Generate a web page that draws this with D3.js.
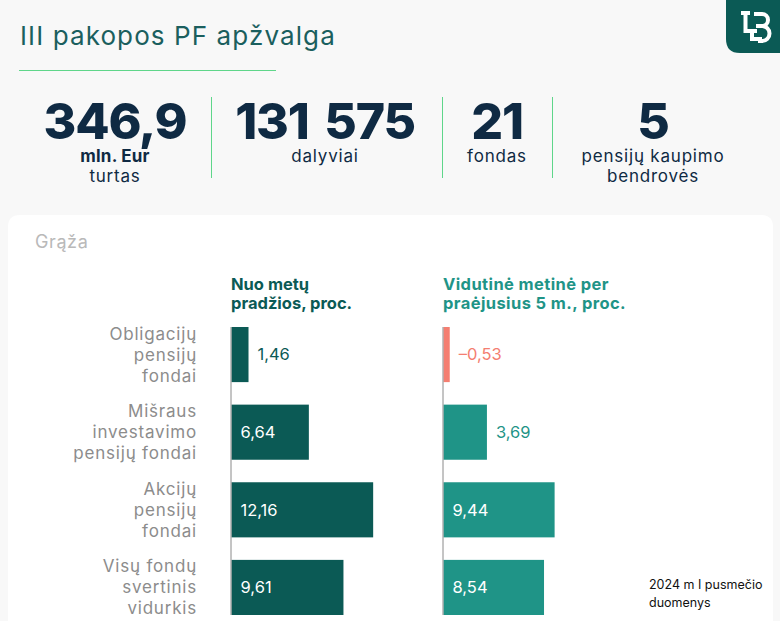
<!DOCTYPE html>
<html>
<head>
<meta charset="utf-8">
<script src="https://cdn.jsdelivr.net/npm/d3@7/dist/d3.min.js"></script>
<style>
  html, body { margin: 0; padding: 0; background: #f8f8f8; }
  svg { display: block; }
  text { font-family: Inter, "Noto Sans", sans-serif; }
</style>
</head>
<body>
<svg id="chart" width="780" height="621"></svg>
<script>
// ---- data ----
const title = "III pakopos PF apžvalga";
const statValues = ["346,9", "131 575", "21", "5"];
const statLabels = [["mln. Eur", "turtas"], ["dalyviai"], ["fondas"], ["pensijų kaupimo", "bendrovės"]];
const categories = ["Obligacijų pensijų fondai", "Mišraus investavimo pensijų fondai", "Akcijų pensijų fondai", "Visų fondų svertinis vidurkis"];
const categoryLines = [["Obligacijų", "pensijų", "fondai"], ["Mišraus", "investavimo", "pensijų fondai"], ["Akcijų", "pensijų", "fondai"], ["Visų fondų", "svertinis", "vidurkis"]];
const ytdValues = [1.46, 6.64, 12.16, 9.61];
const avg5Values = [-0.53, 3.69, 9.44, 8.54];
const seriesHeaders = [["Nuo metų", "pradžios, proc."], ["Vidutinė metinė per", "praėjusius 5 m., proc."]];
const sectionTitle = "Grąža";
const footnote = ["2024 m I pusmečio", "duomenys"];

const fmt = v => (v < 0 ? "\u2013" : "") + Math.abs(v).toFixed(2).replace(".", ",");

const svg = d3.select("#chart");
const navy = "#0f2a43", dark = "#0b5a55", teal = "#1f9487", red = "#f47e71", green = "#5fd68a";

// logo
svg.append("path")
  .attr("d", "M726,0 H780 V53 H740 Q726,53 726,39 Z")
  .attr("fill", dark);
const logo = svg.append("g").attr("fill", "none").attr("stroke", "#fff").attr("stroke-width", 4);
logo.append("path").attr("d", "M741,13 H750 M745.5,13 V31 H757 M752,31 V39 H762");
logo.append("path").attr("d", "M754,14 H762 A6,6 0 0 1 762,26 H756 M762,26 A7.5,7.5 0 0 1 762,41 H758");

// title
svg.append("text").attr("x", 20).attr("y", 45).attr("font-size", 26).attr("letter-spacing", 1.1).attr("fill", "#1b5f5e")
  .text(title);
svg.append("line").attr("x1", 19).attr("x2", 276).attr("y1", 70.5).attr("y2", 70.5)
  .attr("stroke", green).attr("stroke-width", 1);

// stats
const statX = [115, 325, 497, 653];
const dividers = [211.5, 442.5, 552.5];
dividers.forEach(x => svg.append("line").attr("x1", x).attr("x2", x).attr("y1", 97).attr("y2", 178)
  .attr("stroke", green).attr("stroke-width", 1));
statValues.forEach((v, i) => {
  svg.append("text").attr("x", statX[i]).attr("y", 139).attr("text-anchor", "middle")
    .attr("font-size", 50).attr("font-weight", 800).attr("fill", navy).attr("letter-spacing", -1.2)
    .attr("word-spacing", 6).text(v);
  statLabels[i].forEach((l, j) => {
    const bold = (i === 0 && j === 0);
    svg.append("text").attr("x", statX[i]).attr("y", 162 + j * 20).attr("text-anchor", "middle")
      .attr("font-size", 17).attr("letter-spacing", bold ? 0.2 : 0.8).attr("font-weight", bold ? 700 : 400).attr("fill", navy).text(l);
  });
});

// card
svg.append("path")
  .attr("d", "M8,621 V227 Q8,215 20,215 H761 Q773,215 773,227 V621 Z")
  .attr("fill", "#ffffff");
svg.append("text").attr("x", 35).attr("y", 248).attr("font-size", 18).attr("letter-spacing", 0.6).attr("fill", "#b9b9b9").text(sectionTitle);

// scales
const y = d3.scaleBand().domain(categories).range([327, 615]).paddingInner(0.29).paddingOuter(0);
const xL = d3.scaleLinear().domain([0, 13]).range([231.5, 231.5 + 13 * 11.65]);
const xR = d3.scaleLinear().domain([0, 10]).range([443.5, 443.5 + 10 * 11.77]);

// headers
const hdrX = [231, 443], hdrCol = [dark, teal];
seriesHeaders.forEach((h, i) => h.forEach((t, j) =>
  svg.append("text").attr("x", hdrX[i]).attr("y", 290 + j * 19).attr("font-size", 16.5).attr("font-weight", 700)
    .attr("letter-spacing", i === 1 ? 0.4 : 0).attr("fill", hdrCol[i]).text(t)));

// category labels
categories.forEach((c, i) => {
  const cy = y(c) + y.bandwidth() / 2;
  categoryLines[i].forEach((l, j) => {
    svg.append("text").attr("x", 197).attr("y", cy + (j - 1) * 21).attr("dy", "0.35em")
      .attr("text-anchor", "end").attr("font-size", 17).attr("letter-spacing", 0.8).attr("fill", "#8c8c8c").text(l);
  });
});

function drawSeries(values, x, color, outColor) {
  const g = svg.append("g");
  g.selectAll("rect").data(values).join("rect")
    .attr("x", x(0)).attr("y", (d, i) => y(categories[i]))
    .attr("width", d => x(Math.abs(d)) - x(0)).attr("height", y.bandwidth())
    .attr("fill", d => d < 0 ? red : color);
  g.append("line").attr("x1", x(0) - 0.5).attr("x2", x(0) - 0.5).attr("y1", 327).attr("y2", 615)
    .attr("stroke", "#8a8a8a").attr("stroke-width", 1);
  g.selectAll("text").data(values).join("text")
    .attr("y", (d, i) => y(categories[i]) + y.bandwidth() / 2).attr("dy", "0.35em")
    .attr("x", d => d > 5 ? x(0) + 9 : x(Math.abs(d)) + 9)
    .attr("font-size", 16.5)
    .attr("fill", d => d > 5 ? "#ffffff" : (d < 0 ? red : outColor))
    .text(fmt);
}
drawSeries(ytdValues, xL, dark, dark);
drawSeries(avg5Values, xR, teal, teal);

// footnote
footnote.forEach((t, j) => svg.append("text").attr("x", 649).attr("y", 589 + j * 18)
  .attr("font-family", "'Liberation Sans', Arial, sans-serif").attr("font-size", 12.5).attr("fill", "#111").text(t));
</script>
</body>
</html>
